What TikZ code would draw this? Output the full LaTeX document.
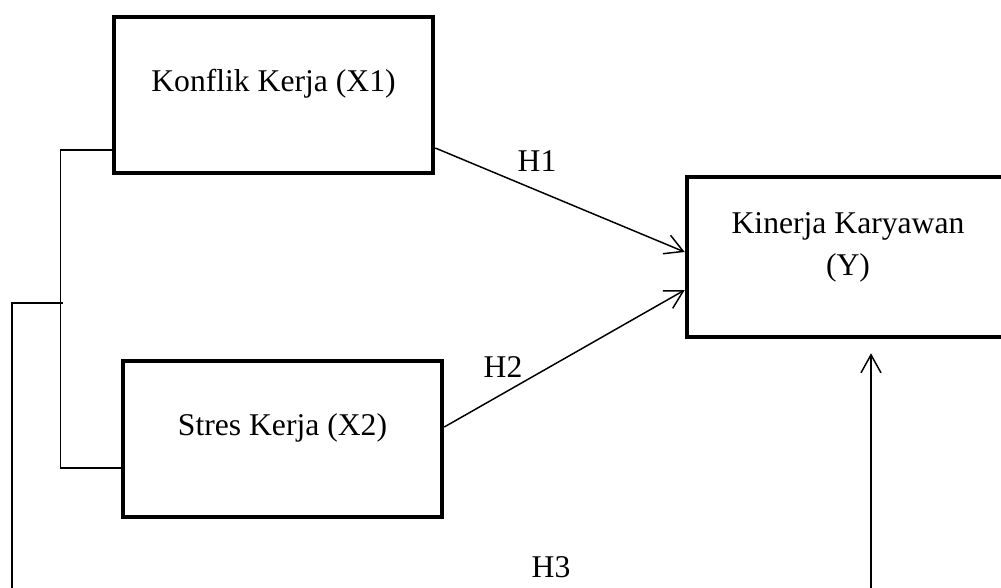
\documentclass[tikz,border=0pt]{standalone}
\usepackage{fontspec}
\setmainfont{Liberation Serif}
\usepackage{tikz}
\usetikzlibrary{arrows.meta}

\tikzset{
	varbox/.style={shape=rectangle, draw, line width=3.2pt, inner sep=0, minimum width=7.975cm, minimum height=3.9cm},
	wire/.style={line width=1.05pt},
	hyp/.style={wire, -{Straight Barb[length=0.45cm, width=0.5cm]}},
}

\begin{document}
\begin{tikzpicture}[x=0.025cm, y=-0.025cm, font=\fontsize{22.5}{30}\selectfont]
	\useasboundingbox (0, 0) rectangle (1001, 587);
	\clip (0, 0) rectangle (1001, 587);
	% Boxes and texts:
	\node[varbox](X1) at (273.5, 95){} node[anchor=center] (X1t) at ([yshift=0.275cm]X1.center){Konflik Kerja (X1)};
	\node[varbox](X2) at (282.5, 439){} node[anchor=center] (X2t) at ([yshift=0.275cm]X2.center){Stres Kerja (X2)};
	\node[varbox, minimum width=8.05cm, minimum height=4cm](Y) at (848, 257){} node[anchor=center, align=center] (Yt) at ([yshift=0.25cm]Y.center){Kinerja Karyawan\\(Y)};
	% Connectors:
	\draw[hyp] ([yshift=-1.325cm]X1.east) -- ([yshift=0.125cm]Y.west);
	\draw[hyp] ([yshift=0.3cm]X2.east) -- ([yshift=-0.825cm]Y.west);
	\draw[wire] ([yshift=-1.375cm]X1.west) -- ++(-51, 0) |- ([yshift=-0.725cm]X2.west);
	\coordinate (J1) at (63, 303);
	\coordinate (B1) at (12, 600);
	\coordinate (B2) at (871, 600);
	\draw[wire] (J1) -| (B1);
	\draw[hyp, shorten >=0.35cm] (B2) -- (B2 |- Y.south);
	% Labels:
	\node (H1) at (537, 161){H1};
	\node (H2) at (503, 367){H2};
	\node (H3) at (551, 567){H3};
\end{tikzpicture}
\end{document}
